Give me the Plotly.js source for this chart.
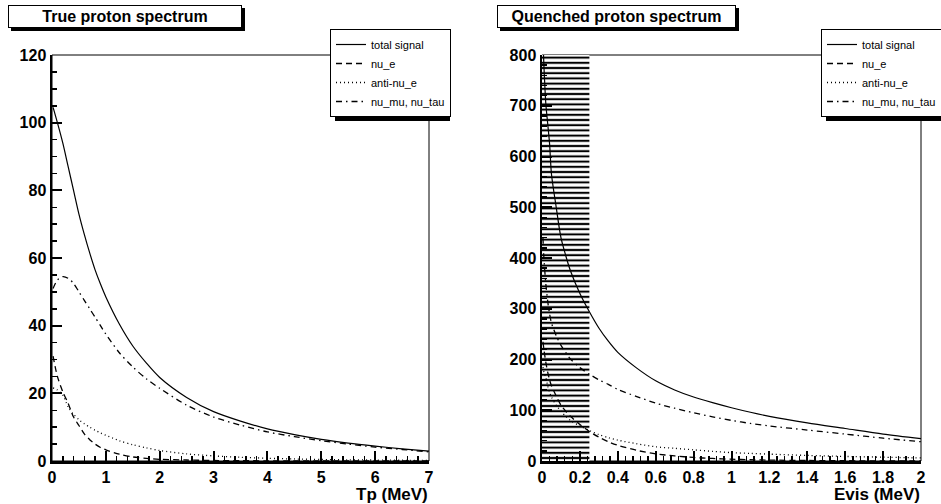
<!DOCTYPE html>
<html>
<head>
<meta charset="utf-8">
<script src="https://cdn.plot.ly/plotly-3.0.1.min.js"></script>
<style>html,body{margin:0;padding:0;background:#fff;}#chart{width:941px;height:504px;}</style>
</head>
<body>
<div id="chart"></div>
<script>
// ---------- Data: left panel (true proton spectrum, Tp in MeV) ----------
const tpMeV = [0.02, 0.1, 0.2, 0.3, 0.4, 0.5, 0.6, 0.7, 0.8, 0.9, 1.0, 1.25, 1.5, 1.75, 2.0, 2.5, 3.0, 3.5, 4.0, 4.5, 5.0, 5.5, 6.0, 6.5, 7.0];
const trueTotal = [104.5, 100, 94, 87, 80, 73, 67, 61.5, 56.5, 52.3, 48.5, 40.5, 34, 29, 24.7, 18.8, 14.6, 11.8, 9.5, 7.8, 6.4, 5.3, 4.4, 3.6, 2.9];
const trueNuE = [31, 25, 20.5, 17, 13, 10.5, 8, 6.3, 5, 4, 3.3, 2.0, 1.2, 0.8, 0.5, 0.3, 0.15, 0.1, 0.05, 0.02, 0, 0, 0, 0, 0];
const trueAntiNuE = [21.6, 21, 19.5, 16, 13.8, 12.2, 11, 10, 9.1, 8.3, 7.6, 6, 4.8, 3.9, 3.1, 2.1, 1.5, 1.1, 0.8, 0.6, 0.45, 0.35, 0.28, 0.22, 0.18];
const trueNuMuTau = [51, 53.5, 54.5, 54, 52.5, 50, 47.5, 45, 42.5, 40, 37.5, 32, 27.8, 24.3, 21.5, 16.5, 13, 10.6, 8.6, 7.2, 6.0, 5.0, 4.1, 3.4, 2.7];

// ---------- Data: right panel (quenched proton spectrum, Evis in MeV) ----------
const evisMeV = [0.005, 0.01, 0.02, 0.03, 0.04, 0.05, 0.075, 0.1, 0.125, 0.15, 0.2, 0.25, 0.3, 0.35, 0.4, 0.5, 0.6, 0.7, 0.8, 0.9, 1.0, 1.1, 1.2, 1.4, 1.6, 1.8, 2.0];
const qTotal = [830, 780, 705, 665, 625, 565, 500, 440, 405, 375, 330, 294, 262, 236, 214, 183, 158, 140, 126, 115, 105, 96, 88, 75, 64, 53, 44];
const qNuE = [235, 220, 195, 175, 160, 148, 128, 110, 98, 88, 72, 58, 47, 38, 31, 21, 14, 10, 7, 5, 3.5, 2.5, 1.8, 1, 0.5, 0.3, 0.2];
const qAntiNuE = [185, 175, 165, 148, 135, 126, 110, 98, 88, 80, 69, 60, 52, 46, 41, 34, 28, 25, 22, 19, 16.5, 15, 13.5, 11, 9, 7.5, 6];
const qNuMuTau = [440, 400, 350, 315, 290, 272, 247, 228, 214, 201, 184, 171, 160, 151, 141, 127, 114, 104, 95, 87, 80, 74, 69, 61, 53, 45, 38];

// hatched (cut) region of the quenched spectrum
const cutRange = [0, 0.25];
const cutHeight = 800;

const seriesNames = ["total signal", "nu_e", "anti-nu_e", "nu_mu, nu_tau"];
const panelTitles = ["True proton spectrum", "Quenched proton spectrum"];
const axisTitles = ["Tp (MeV)", "Evis (MeV)"];

// ---------- styling ----------
const W = 941, H = 504;
const FONT = "Liberation Sans, Arial, Helvetica, sans-serif";
const dashes = ["solid", "6px,4px", "1px,3px", "6px,4px,1.5px,4px"];
const widths = [1.2, 1.3, 1.3, 1.3];
const px = v => v / W;            // pixel -> paper x
const py = v => 1 - v / H;        // pixel -> paper y

function makeTraces(x, ys, xa, ya, leg) {
  return ys.map((y, i) => ({
    type: "scatter", mode: "lines", x: x, y: y, name: seriesNames[i],
    xaxis: xa, yaxis: ya, legend: leg,
    line: {color: "black", width: widths[i], dash: dashes[i], shape: "spline", smoothing: 0.8}
  }));
}

const hatch = {
  type: "bar", x: [(cutRange[0] + cutRange[1]) / 2], y: [cutHeight], width: [cutRange[1] - cutRange[0]],
  xaxis: "x2", yaxis: "y2", showlegend: false, hoverinfo: "skip",
  marker: {color: "white", line: {width: 0},
    pattern: {shape: "-", fgcolor: "black", bgcolor: "white", size: 5.2, solidity: 0.4}}
};

const traces = [hatch]
  .concat(makeTraces(tpMeV, [trueTotal, trueNuE, trueAntiNuE, trueNuMuTau], "x", "y", "legend"))
  .concat(makeTraces(evisMeV, [qTotal, qNuE, qAntiNuE, qNuMuTau], "x2", "y2", "legend2"));

const tickFont = {family: FONT, size: 16, color: "black", weight: "bold"};
function axis(extra) {
  return Object.assign({
    showgrid: false, zeroline: false, showline: true, linecolor: "black", linewidth: 2.5,
    ticks: "inside", ticklen: 10, tickwidth: 2, tickcolor: "black",
    tickfont: tickFont, automargin: false, fixedrange: true
  }, extra);
}
const minor = d => ({ticks: "inside", ticklen: 5, tickwidth: 1.5, tickcolor: "black", dtick: d, showgrid: false});

const yDom = [py(461), py(55)];
const legendBase = {
  bgcolor: "white", bordercolor: "black", borderwidth: 1,
  font: {family: FONT, size: 11, color: "black"},
  xanchor: "left", yanchor: "top", itemwidth: 30, traceorder: "normal"
};

const frame = (xr, yr) => ({type: "rect", xref: xr + " domain", yref: yr + " domain",
  x0: 0, x1: 1, y0: 0, y1: 1, line: {color: "black", width: 1}, layer: "below"});
const shadow = (x0, y0, x1, y1) => ({type: "rect", xref: "paper", yref: "paper",
  x0: px(x0), x1: px(x1), y0: py(y1), y1: py(y0), fillcolor: "black", line: {width: 0}, layer: "above"});

const layout = {
  width: W, height: H, margin: {l: 0, r: 0, t: 0, b: 0, autoexpand: false},
  paper_bgcolor: "white", plot_bgcolor: "white",
  showlegend: true, barmode: "overlay",
  font: {family: FONT, color: "black"},
  xaxis: axis({domain: [px(52), px(429)], range: [0, 7], dtick: 1, anchor: "y", minor: minor(0.2)}),
  yaxis: axis({domain: yDom, range: [0, 120], dtick: 20, anchor: "x", minor: minor(5)}),
  xaxis2: axis({domain: [px(542), px(921)], range: [0, 2], dtick: 0.2, anchor: "y2", minor: minor(0.04)}),
  yaxis2: axis({domain: yDom, range: [0, 800], dtick: 100, anchor: "x2", minor: minor(20)}),
  legend: Object.assign({}, legendBase, {x: px(330), y: py(29)}),
  legend2: Object.assign({}, legendBase, {x: px(821), y: py(29)}),
  shapes: [
    frame("x", "y"), frame("x2", "y2"),
    shadow(11, 8, 245, 31), shadow(500, 8, 739, 31),
    shadow(335, 34, 450, 121), shadow(826, 34, 945, 121)
  ],
  annotations: [
    {text: "<b>" + panelTitles[0] + "</b>", xref: "paper", yref: "paper", x: px(125), y: py(16.5),
      xanchor: "center", yanchor: "middle", showarrow: false, width: 232, height: 21,
      bgcolor: "white", bordercolor: "black", borderwidth: 1, borderpad: 0,
      font: {family: FONT, size: 16, color: "black"}},
    {text: "<b>" + panelTitles[1] + "</b>", xref: "paper", yref: "paper", x: px(616.5), y: py(16.5),
      xanchor: "center", yanchor: "middle", showarrow: false, width: 237, height: 21,
      bgcolor: "white", bordercolor: "black", borderwidth: 1, borderpad: 0,
      font: {family: FONT, size: 16, color: "black"}},
    {text: "<b>" + axisTitles[0] + "</b>", xref: "paper", yref: "paper", x: px(430), y: py(494),
      xanchor: "right", yanchor: "middle", showarrow: false, font: {family: FONT, size: 17, color: "black"}},
    {text: "<b>" + axisTitles[1] + "</b>", xref: "paper", yref: "paper", x: px(922), y: py(494),
      xanchor: "right", yanchor: "middle", showarrow: false, font: {family: FONT, size: 17, color: "black"}}
  ]
};

Plotly.newPlot("chart", traces, layout, {staticPlot: true, displayModeBar: false});
</script>
</body>
</html>
